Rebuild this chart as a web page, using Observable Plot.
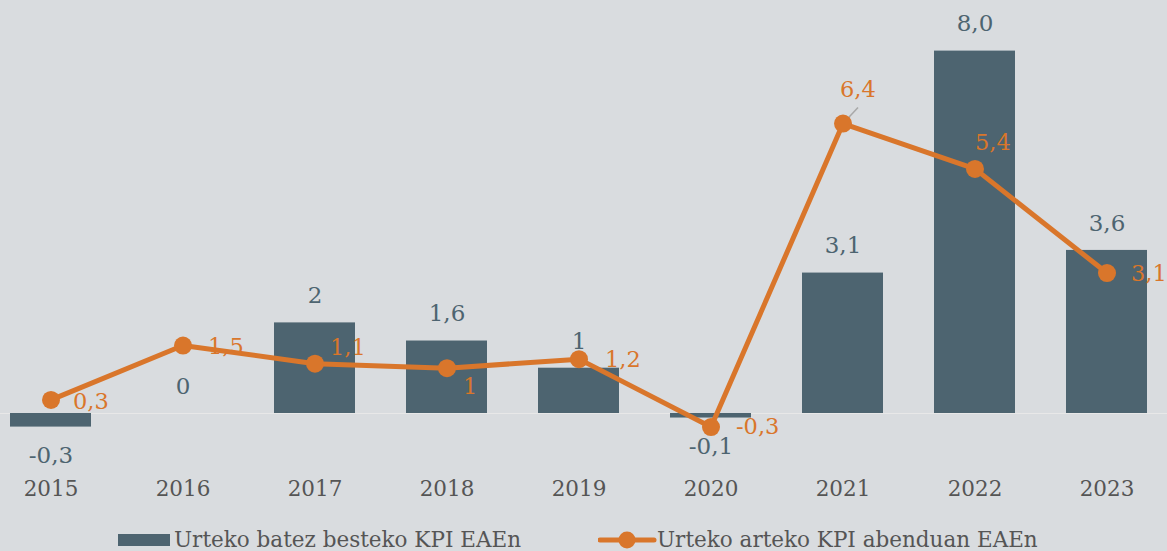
<!DOCTYPE html>
<html>
<head>
<meta charset="utf-8">
<script src="https://cdn.jsdelivr.net/npm/d3@7"></script>
<script src="https://cdn.jsdelivr.net/npm/@observablehq/plot@0.6"></script>
<style>
  html, body { margin: 0; padding: 0; background: #d9dcdf; }
  body { width: 1167px; height: 551px; overflow: hidden; font-family: "DejaVu Serif", serif; }
  #chart svg { display: block; }
  .legend { position: absolute; top: 526px; left: 0; width: 1167px; height: 27px; font-size: 21.5px; color: #555; }
  .legend .item { position: absolute; top: 0; display: flex; align-items: center; height: 27px; white-space: nowrap; }
</style>
</head>
<body>
<div id="chart"></div>
<div class="legend">
  <div class="item" style="left:118px">
    <svg width="54" height="14" style="margin-right:2px"><rect x="0" y="1" width="52" height="12" fill="#4d6470"></rect></svg>
    <span id="leg1"></span>
  </div>
  <div class="item" style="left:598px">
    <svg width="59" height="20"><line x1="2" y1="10" x2="56" y2="10" stroke="#d9762b" stroke-width="5" stroke-linecap="round"></line><circle cx="29" cy="10" r="8.5" fill="#d9762b"></circle></svg>
    <span id="leg2"></span>
  </div>
</div>
<script>
const years = ["2015","2016","2017","2018","2019","2020","2021","2022","2023"];
const avgCPI = [-0.3, 0, 2, 1.6, 1, -0.1, 3.1, 8.0, 3.6];
const avgLabels = ["-0,3","0","2","1,6","1","-0,1","3,1","8,0","3,6"];
const decCPI = [0.3, 1.5, 1.1, 1, 1.2, -0.3, 6.4, 5.4, 3.1];
const decLabels = ["0,3","1,5","1,1","1","1,2","-0,3","6,4","5,4","3,1"];
const seriesNames = ["Urteko batez besteko KPI EAEn", "Urteko arteko KPI abenduan EAEn"];

document.getElementById("leg1").textContent = seriesNames[0];
document.getElementById("leg2").textContent = seriesNames[1];

const bars = years.map((y, i) => ({year: y, value: avgCPI[i], label: avgLabels[i]}));
const line = years.map((y, i) => ({year: y, value: decCPI[i], label: decLabels[i]}));

const barColor = "#4d6470";
const lineColor = "#d9762b";

// label nudges for the line labels (dx, dy)
const nudge = {
  "2015": [22, 2], "2016": [25, 1], "2017": [15, -16], "2018": [16, 19],
  "2019": [26, 1], "2020": [25, 0], "2021": [-3, -34], "2022": [0, -26], "2023": [24, 1]
};

const lineLabelMarks = years.map(y => Plot.text(line.filter(d => d.year === y), {
  x: "year", y: "value", text: "label", fill: lineColor, fontSize: 22.5,
  textAnchor: "start", dx: nudge[y][0], dy: nudge[y][1]
}));

const chart = Plot.plot({
  width: 1167,
  height: 516,
  marginLeft: 0, marginRight: 0, marginTop: 0, marginBottom: 0,
  style: {background: "transparent", fontFamily: "DejaVu Serif, serif", overflow: "visible"},
  x: {type: "band", domain: years, range: [-16, 1172], paddingInner: 0.39, paddingOuter: 0.195, axis: null},
  y: {domain: [-1, 9], range: [413 + 45.3, 413 - 9 * 45.3], axis: null},
  marks: [
    Plot.ruleY([0], {stroke: "#e8e8e8", strokeWidth: 1}),
    Plot.barY(bars, {x: "year", y: "value", fill: barColor}),
    Plot.text(bars, {x: "year", y: "value", text: "label", fill: barColor, fontSize: 23,
      dy: -27, filter: d => d.value >= 0}),
    Plot.text(bars, {x: "year", y: "value", text: "label", fill: barColor, fontSize: 23,
      dy: 29, filter: d => d.value < 0}),
    Plot.axisX({y: 0, anchor: "bottom", tickSize: 0, dy: 58, fontSize: 21.5, color: "#555", label: null}),
    ...lineLabelMarks,
    Plot.link(line.filter(d => d.year === "2021"), {x1: "year", y1: "value", x2: "year", y2: "value",
      stroke: "#a8a8a8", strokeWidth: 1.5,
      render: (index, scales, values, dims, ctx, next) => {
        const g = next(index, scales, values, dims, ctx);
        d3.select(g).selectAll("path").each(function() {
          const x = values.x1[index[0]], y = values.y1[index[0]];
          d3.select(this).attr("d", `M${x},${y}L${x + 15},${y - 16}`);
        });
        return g;
      }}),
    Plot.line(line, {x: "year", y: "value", stroke: lineColor, strokeWidth: 5}),
    Plot.dot(line, {x: "year", y: "value", fill: lineColor, r: 9})
  ]
});
document.getElementById("chart").appendChild(chart);
</script>
</body>
</html>
